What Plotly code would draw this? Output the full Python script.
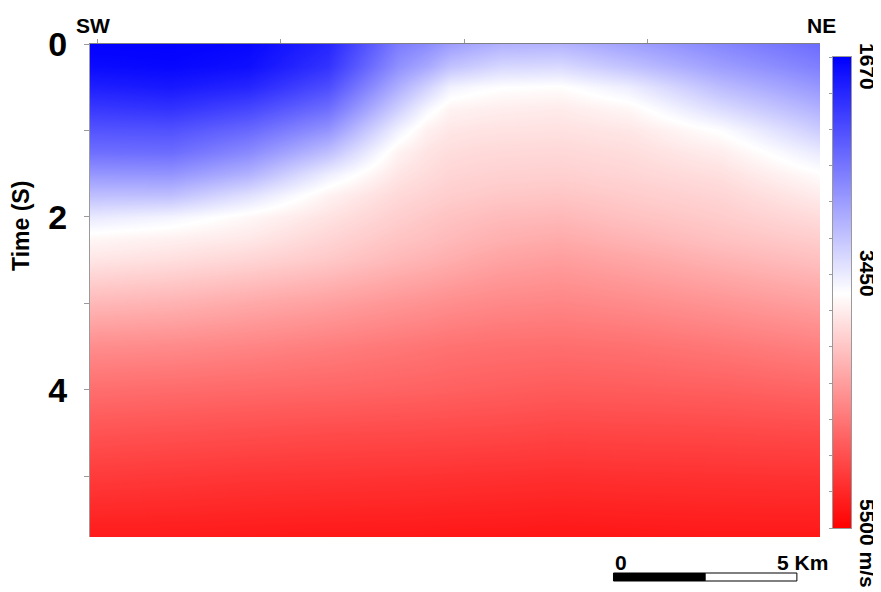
import numpy as np
import plotly.graph_objects as go

# ---------------- data ----------------
dist_km = [-0.2, 2.0, 4.1, 6.3, 8.2, 9.0, 9.6, 10.3, 11.0, 12.6, 14.5, 17.0, 19.7]
time_s = [0, 0.25, 0.5, 0.75, 1.0, 1.25, 1.5, 1.75, 2.0, 2.25, 2.5, 3.0, 3.5, 4.0, 4.5, 5.0, 5.7]

v_t000 = [1680, 1680, 1720, 1950, 2600, 2720, 2850, 2930, 3000, 3020, 2880, 2680, 2480]
v_t025 = [1750, 1720, 1780, 2050, 2750, 2930, 3120, 3200, 3280, 3300, 3120, 2850, 2620]
v_t050 = [1900, 1850, 1950, 2250, 2980, 3250, 3480, 3540, 3580, 3600, 3450, 3080, 2800]
v_t075 = [2100, 2050, 2200, 2500, 3230, 3520, 3680, 3700, 3720, 3740, 3650, 3320, 3000]
v_t100 = [2300, 2280, 2450, 2780, 3480, 3700, 3770, 3790, 3800, 3810, 3770, 3570, 3200]
v_t125 = [2500, 2480, 2700, 3100, 3680, 3790, 3840, 3860, 3870, 3880, 3840, 3720, 3420]
v_t150 = [2800, 2780, 3000, 3450, 3780, 3850, 3900, 3915, 3930, 3940, 3900, 3820, 3600]
v_t175 = [3100, 3100, 3350, 3680, 3870, 3920, 3960, 3980, 4000, 4020, 3970, 3900, 3730]
v_t200 = [3420, 3500, 3640, 3800, 3950, 4000, 4040, 4070, 4100, 4120, 4050, 3970, 3850]
v_t225 = [3650, 3700, 3760, 3900, 4030, 4070, 4110, 4145, 4180, 4220, 4150, 4050, 3960]
v_t250 = [3780, 3830, 3900, 4000, 4120, 4160, 4200, 4240, 4280, 4320, 4260, 4160, 4060]
v_t300 = [4120, 4160, 4230, 4300, 4380, 4410, 4440, 4460, 4480, 4500, 4460, 4390, 4300]
v_t350 = [4450, 4470, 4510, 4560, 4610, 4630, 4650, 4660, 4670, 4680, 4660, 4610, 4540]
v_t400 = [4680, 4700, 4720, 4740, 4760, 4770, 4780, 4790, 4800, 4820, 4810, 4790, 4750]
v_t450 = [4880, 4900, 4920, 4940, 4950, 4955, 4960, 4965, 4970, 4990, 4980, 4970, 4950]
v_t500 = [5060, 5080, 5100, 5110, 5120, 5125, 5130, 5135, 5140, 5150, 5140, 5130, 5120]
v_t570 = [5300, 5300, 5310, 5320, 5320, 5325, 5330, 5330, 5330, 5340, 5330, 5320, 5320]

velocity = [v_t000, v_t025, v_t050, v_t075, v_t100, v_t125, v_t150, v_t175,
            v_t200, v_t225, v_t250, v_t300, v_t350, v_t400, v_t450, v_t500, v_t570]

v_min, v_max = 1670, 5500
cbar_labels = ["1670", "3450", "5500 m/s"]
cbar_levels = [1670, 2150, 2630, 3110, 3585, 4060, 4540, 5020, 5500]
time_ticks = [0, 1, 2, 3, 4, 5]
time_ticktext = ["0", "", "2", "", "4", ""]
dist_ticks = [0, 5, 10, 15]
scalebar_len_km = 5

# ---------------- geometry / style ----------------
PAGE_W, PAGE_H = 881, 592
OFF = 8                                 # default page body margin
W, H = PAGE_W - OFF, PAGE_H - OFF
L, R, T, B = 90, 851, 44, 537           # plot box in page pixels (incl. colour bar)
PW, PH = R - L, B - T
def px(p):
    return (p - L) / PW
def py(p):
    return (B - p) / PH

FONT = "Liberation Sans, Arial, sans-serif"
GRAY = "#9a9a9a"
cscale = [[0, "rgb(0,0,255)"], [0.5, "rgb(255,255,255)"], [1, "rgb(255,0,0)"]]

fig = go.Figure()
fig.add_trace(go.Heatmap(
    x=dist_km, y=time_s, z=velocity, zmin=v_min, zmax=v_max,
    colorscale=cscale, zsmooth="best", showscale=False,
    xaxis="x", yaxis="y", hoverinfo="skip"))

# colour bar drawn as its own heatmap so low values sit on top
fig.add_trace(go.Heatmap(
    x=[0], y=cbar_levels, z=[[v] for v in cbar_levels], zmin=v_min, zmax=v_max,
    colorscale=cscale, zsmooth="best", showscale=False,
    xaxis="x2", yaxis="y2", hoverinfo="skip"))

main_right = px(820)
fig.update_layout(
    width=W, height=H,
    margin=dict(l=L - OFF, r=PAGE_W - R, t=T - OFF, b=PAGE_H - B, pad=0),
    paper_bgcolor="white", plot_bgcolor="white",
    showlegend=False,
    xaxis=dict(domain=[0, main_right], range=[dist_km[0], dist_km[-1]],
               side="top", tickvals=dist_ticks, showticklabels=False,
               ticks="outside", ticklen=4, tickcolor=GRAY,
               showline=True, linecolor="#808080", linewidth=1,
               showgrid=False, zeroline=False),
    yaxis=dict(domain=[0, 1], range=[time_s[-1], 0],
               tickvals=time_ticks, ticktext=time_ticktext,
               ticks="outside", ticklen=5, tickcolor=GRAY,
               tickfont=dict(family=FONT, size=34, color="black", weight="bold"),
               ticklabelstandoff=10,
               showline=True, linecolor=GRAY, linewidth=1,
               showgrid=False, zeroline=False),
    xaxis2=dict(domain=[px(833), px(851)], range=[-0.5, 0.5],
                anchor="y2", showticklabels=False, ticks="",
                showline=True, mirror=True, linecolor=GRAY,
                showgrid=False, zeroline=False),
    yaxis2=dict(domain=[py(528), py(57)], range=[v_max, v_min],
                anchor="x2", side="left",
                tickvals=list(np.linspace(v_min, v_max, 14)),
                showticklabels=False, ticks="outside", ticklen=3, tickcolor=GRAY,
                showline=True, mirror=True, linecolor=GRAY,
                showgrid=False, zeroline=False),
)

ann = []
def add_text(text, x, y, size, angle=0, xanchor="center", xref="paper"):
    ann.append(dict(text=text, x=x, y=y, xref=xref, yref="paper",
                    xanchor=xanchor, yanchor="middle", showarrow=False,
                    textangle=angle,
                    font=dict(family=FONT, size=size, color="black", weight="bold")))

add_text("SW", px(93), py(25), 21)
add_text("NE", px(821), py(25), 21)
add_text("Time (S)", px(21), py(226), 23, angle=-90)
for lab, y in zip(cbar_labels, [67, 274, 544]):
    add_text(lab, px(868), py(y), 21, angle=90)

# scale bar (0 - 5 km) in data units along the distance axis
sb_start = 14.07
sb_mid = sb_start + scalebar_len_km / 2
sb_end = sb_start + scalebar_len_km
shapes = [
    dict(type="rect", xref="x", yref="paper", x0=sb_start, x1=sb_mid,
         y0=py(581), y1=py(573), fillcolor="black", line=dict(color="black", width=1)),
    dict(type="rect", xref="x", yref="paper", x0=sb_mid, x1=sb_end,
         y0=py(581), y1=py(573), fillcolor="white", line=dict(color="black", width=1)),
]
add_text("0", sb_start, py(562), 21, xanchor="left", xref="x")
add_text("%d Km" % scalebar_len_km, px(830), py(562), 21, xanchor="right")

fig.update_layout(annotations=ann, shapes=shapes)
fig.write_html("out.html")
